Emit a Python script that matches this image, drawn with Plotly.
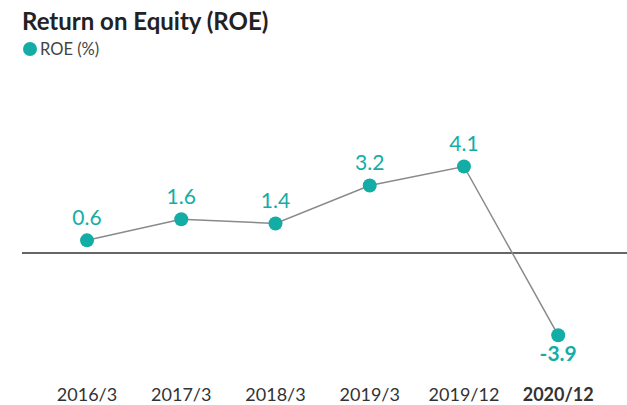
import plotly.graph_objects as go

categories = ["2016/3", "2017/3", "2018/3", "2019/3", "2019/12", "2020/12"]
roe = [0.6, 1.6, 1.4, 3.2, 4.1, -3.9]
tick_labels = ["2016/3", "2017/3", "2018/3", "2019/3", "2019/12", "<b>2020/12</b>"]
label_text = ["0.6", "1.6", "1.4", "3.2", "4.1", "<b>-3.9</b>"]
series_name = "ROE (%)"
chart_title = "Return on Equity (ROE)"

TEAL = "#14ADA6"
idx = list(range(len(categories)))
W, H = 627, 405
L, T, B = 22, 60, 23
PH = H - T - B
ZERO_Y, PX_PER_UNIT = 253, 21.1

def py(ypix):
    return 1 + (T - ypix) / PH

def px(xpix):
    return (xpix - L) / (W - L)

fig = go.Figure()
fig.add_trace(go.Scatter(
    x=idx, y=roe, mode="lines+markers+text",
    text=label_text,
    textposition=["top center"] * 5 + ["bottom center"],
    textfont=dict(family="Lato", size=21, color=TEAL),
    line=dict(color="#8a8a8a", width=1.5),
    marker=dict(color=TEAL, size=14),
    showlegend=False, cliponaxis=False, hoverinfo="skip",
))

# legend drawn manually: circle + label
fig.add_shape(type="circle", xref="paper", yref="paper",
              xsizemode="pixel", ysizemode="pixel",
              xanchor=px(30), yanchor=py(49),
              x0=-7, x1=7, y0=-7, y1=7,
              fillcolor=TEAL, line=dict(width=0))
fig.add_annotation(text=series_name, xref="paper", yref="paper",
                   x=px(38), y=py(49),
                   xanchor="left", yanchor="middle", showarrow=False,
                   font=dict(family="Lato", size=16.5, color="#444444"))
fig.add_annotation(text="<b>" + chart_title + "</b>", xref="paper", yref="paper",
                   x=px(20), y=py(21),
                   xanchor="left", yanchor="middle", showarrow=False,
                   font=dict(family="Lato", size=24, color="#222222"))

fig.update_layout(
    width=W, height=H,
    margin=dict(l=L, r=0, t=T, b=B, autoexpand=False),
    paper_bgcolor="white", plot_bgcolor="white",
    font=dict(family="Lato", color="#333333"),
    showlegend=False,
    xaxis=dict(tickmode="array", tickvals=idx, ticktext=tick_labels,
               range=[-0.69, 5.73], showgrid=False, zeroline=False, showline=False,
               ticks="", tickfont=dict(family="Lato", size=18, color="#333333")),
    yaxis=dict(range=[-(T + PH - ZERO_Y) / PX_PER_UNIT, (ZERO_Y - T) / PX_PER_UNIT],
               showgrid=False, zeroline=True,
               zerolinecolor="#666666", zerolinewidth=1.5,
               showticklabels=False, showline=False, ticks=""),
)

fig.write_html("out.html", config={"displayModeBar": False},
               post_script="document.body.style.margin='0';")
